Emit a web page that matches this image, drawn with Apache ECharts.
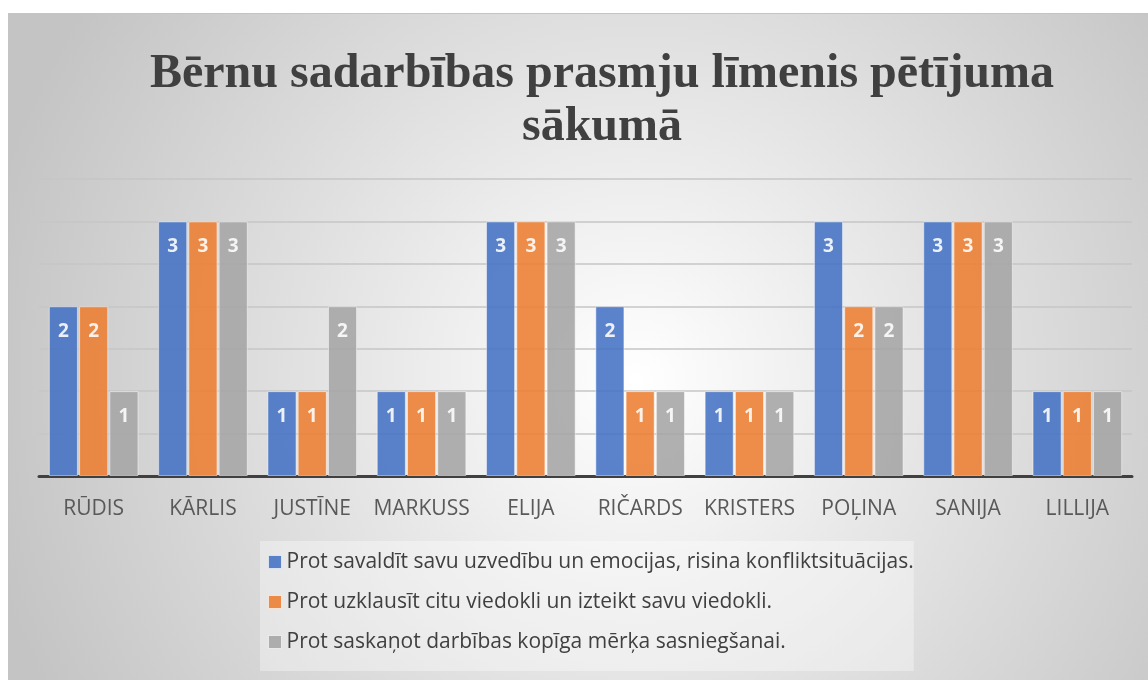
<!DOCTYPE html>
<html>
<head>
<meta charset="utf-8">
<script src="https://cdn.jsdelivr.net/npm/echarts@6/dist/echarts.min.js"></script>
<style>
  html, body { margin: 0; padding: 0; background: #ffffff; }
  #wrap { position: absolute; left: 8px; top: 13px; width: 1140px; height: 667px;
          border-top: 1px solid #c4c4c4; border-left: 1px solid #c4c4c4; box-sizing: border-box; }
  #chart { width: 100%; height: 100%; }
</style>
</head>
<body>
<div id="wrap"><div id="chart"></div></div>
<script>
const titleText = 'Bērnu sadarbības prasmju līmenis pētījuma\nsākumā';
const categories = ['RŪDIS', 'KĀRLIS', 'JUSTĪNE', 'MARKUSS', 'ELIJA', 'RIČARDS', 'KRISTERS', 'POĻINA', 'SANIJA', 'LILLIJA'];
const seriesNames = [
  'Prot savaldīt savu uzvedību un emocijas, risina konfliktsituācijas.',
  'Prot uzklausīt citu viedokli un izteikt savu viedokli.',
  'Prot saskaņot darbības kopīga mērķa sasniegšanai.'
];
const valuesA = [2, 3, 1, 1, 3, 2, 1, 3, 3, 1];
const valuesB = [2, 3, 1, 1, 3, 1, 1, 2, 3, 1];
const valuesC = [1, 3, 2, 1, 3, 1, 1, 2, 3, 1];
const colors = ['#4472C4', '#ED7D31', '#A5A5A5'];

const chart = echarts.init(document.getElementById('chart'), null, { renderer: 'canvas' });
const allValues = [valuesA, valuesB, valuesC];
const labelFont = '"Open Sans", "Noto Sans", sans-serif';

const series = allValues.map((vals, i) => ({
  name: seriesNames[i],
  type: 'bar',
  data: vals,
  barCategoryGap: '18%',
  barGap: '4%',
  itemStyle: { color: colors[i], opacity: 0.88, borderColor: 'rgba(255,255,255,0.55)', borderWidth: 1 },
  label: {
    show: true, position: 'insideTop', distance: 16,
    color: '#ffffff', fontWeight: 'bold', fontSize: 19, fontFamily: labelFont
  },
  z: 1
}));

chart.setOption({
  backgroundColor: {
    type: 'radial', x: 0.55, y: 0.55, r: 1.0,
    colorStops: [{ offset: 0, color: '#ffffff' }, { offset: 1, color: '#c4c4c4' }]
  },
  color: colors,
  title: {
    text: titleText,
    left: 588, top: 29, textAlign: 'center',
    textStyle: {
      fontFamily: '"Liberation Serif", "DejaVu Serif", serif',
      fontWeight: 'bold', fontSize: 48, lineHeight: 53, color: '#404040'
    }
  },
  grid: { left: 30, right: 16, top: 165, bottom: 204, containLabel: false },
  xAxis: {
    type: 'category', data: categories,
    axisLine: { lineStyle: { color: '#404040', width: 3 } },
    axisTick: { show: false },
    axisLabel: { color: '#595959', fontSize: 21, margin: 23, fontFamily: labelFont, interval: 0 }
  },
  yAxis: {
    type: 'value', min: 0, max: 3.5, interval: 0.5,
    axisLabel: { show: false }, axisLine: { show: false }, axisTick: { show: false },
    splitLine: { lineStyle: { color: '#c6c6c6', width: 1.5 } }
  },
  legend: {
    orient: 'vertical', left: 251, top: 527,
    backgroundColor: 'rgba(255,255,255,0.35)',
    padding: [8, 0, 16, 8],
    itemGap: 14, itemWidth: 13, itemHeight: 13, itemTextGap: 6,
    icon: 'rect',
    itemStyle: { borderColor: 'rgba(255,255,255,0.7)', borderWidth: 1 },
    textStyle: { color: '#404040', fontSize: 21, lineHeight: 26, fontFamily: labelFont },
    data: seriesNames
  },
  series: series
});
</script>
</body>
</html>
